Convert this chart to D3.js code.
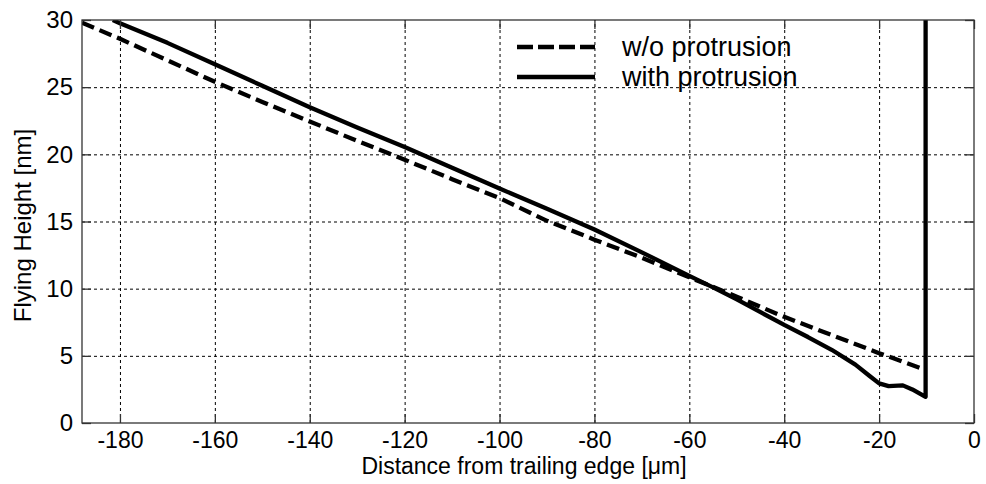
<!DOCTYPE html>
<meta charset="utf-8">
<script src="https://cdn.jsdelivr.net/npm/d3@7"></script>
<style>
body { margin: 0; background: #fff; }
text { font-family: Arial, "Liberation Sans", sans-serif; fill: #000; }
.grid line { stroke: #000; stroke-width: 1; stroke-dasharray: 3,3; }
.grid path { display: none; }
.ticks path { display: none; }
.ticks line { stroke: #333; stroke-width: 1.3; }
.line { fill: none; stroke: #000; stroke-width: 4.3; }
</style>
<body>
<script>

// distance from trailing edge [um]
var woX = [-188, -180, -170, -160, -150, -140, -130, -120, -110, -100, -90, -80, -70, -60, -50, -40, -30, -20, -11];
// flying height w/o protrusion [nm]
var woY = [29.8, 28.6, 27.0, 25.4, 23.9, 22.45, 21.0, 19.6, 18.15, 16.75, 15.05, 13.65, 12.3, 10.85, 9.4, 7.9, 6.55, 5.2, 4.05];

var withX = [-181.5, -180, -170, -160, -150, -140, -130, -120, -110, -100, -90, -80, -70, -60, -55, -50, -45, -40, -35, -30, -25, -22, -20, -18, -15, -13, -10.2, -10.2];
var withY = [30, 29.75, 28.3, 26.7, 25.1, 23.5, 22.0, 20.55, 19.0, 17.45, 15.95, 14.4, 12.7, 10.95, 10.1, 9.2, 8.25, 7.3, 6.4, 5.45, 4.35, 3.5, 2.95, 2.75, 2.8, 2.5, 1.95, 30];

var xTicks = [-180, -160, -140, -120, -100, -80, -60, -40, -20, 0];
var yTicks = [0, 5, 10, 15, 20, 25, 30];
var legendNames = ["w/o protrusion", "with protrusion"];

var margin = {top: 20, right: 12, bottom: 61, left: 82},
    width = 986 - margin.left - margin.right,
    height = 484 - margin.top - margin.bottom;

var x = d3.scaleLinear().domain([-188, 0]).range([0, width]);
var y = d3.scaleLinear().domain([0, 30]).range([height, 0]);

var svg = d3.select("body").append("svg")
    .attr("width", 986)
    .attr("height", 484)
  .append("g")
    .attr("transform", "translate(" + margin.left + "," + margin.top + ")");

svg.append("clipPath").attr("id", "clip")
  .append("rect").attr("width", width).attr("height", height);

// grid
svg.append("g").attr("class", "grid")
    .attr("transform", "translate(0," + height + ")")
    .call(d3.axisBottom(x).tickValues(xTicks.slice(0, -1)).tickSize(-height).tickFormat(""));
svg.append("g").attr("class", "grid")
    .call(d3.axisLeft(y).tickValues(yTicks.slice(1, -1)).tickSize(-width).tickFormat(""));

// lines
var line = d3.line()
    .x(function(d) { return x(d[0]); })
    .y(function(d) { return y(d[1]); });

var plot = svg.append("g").attr("clip-path", "url(#clip)");
plot.append("path")
    .datum(d3.zip(woX, woY))
    .attr("class", "line")
    .style("stroke-dasharray", "13,6")
    .attr("d", line);
plot.append("path")
    .datum(d3.zip(withX, withY))
    .attr("class", "line")
    .style("stroke-linejoin", "round")
    .attr("d", line);

// plain hyphen minus like the original
var fmt = function(d) { return String(d); };

// ticks (inside) on all four sides
svg.append("g").attr("class", "ticks")
    .attr("transform", "translate(0," + height + ")")
    .call(d3.axisBottom(x).tickValues(xTicks).tickSize(-9).tickPadding(9).tickFormat(fmt))
    .call(function(g) { g.selectAll("text").style("font-size", "23px").attr("dy", "0.71em"); });
svg.append("g").attr("class", "ticks")
    .call(d3.axisTop(x).tickValues(xTicks).tickSize(-9).tickFormat(""));
svg.append("g").attr("class", "ticks")
    .call(d3.axisLeft(y).tickValues(yTicks).tickSize(-9).tickPadding(9).tickFormat(fmt))
    .call(function(g) { g.selectAll("text").style("font-size", "24px"); });
svg.append("g").attr("class", "ticks")
    .attr("transform", "translate(" + width + ",0)")
    .call(d3.axisRight(y).tickValues(yTicks).tickSize(-9).tickFormat(""));

// box
svg.append("rect")
    .attr("width", width).attr("height", height)
    .style("fill", "none").style("stroke", "#333").style("stroke-width", 1.3);

// axis labels
svg.append("text")
    .attr("x", width / 2 - 4)
    .attr("y", height + 51)
    .attr("text-anchor", "middle")
    .style("font-size", "23px")
    .text("Distance from trailing edge [\u03bcm]");

svg.append("text")
    .attr("transform", "translate(" + (-margin.left + 31) + "," + (height / 2 + 4) + ") rotate(-90)")
    .attr("text-anchor", "middle")
    .style("font-size", "24px")
    .text("Flying Height [nm]");

// legend
var legend = svg.append("g").attr("transform", "translate(435,27)");
legendNames.forEach(function(name, i) {
  var ly = i * 30;
  legend.append("line")
      .attr("x1", 0).attr("x2", 78)
      .attr("y1", ly).attr("y2", ly)
      .attr("class", "line")
      .style("stroke-dasharray", i === 0 ? "16,5" : null);
  legend.append("text")
      .attr("x", 105).attr("y", ly)
      .attr("dy", "0.35em")
      .style("font-size", "27px")
      .text(name);
});

</script>
</body>
